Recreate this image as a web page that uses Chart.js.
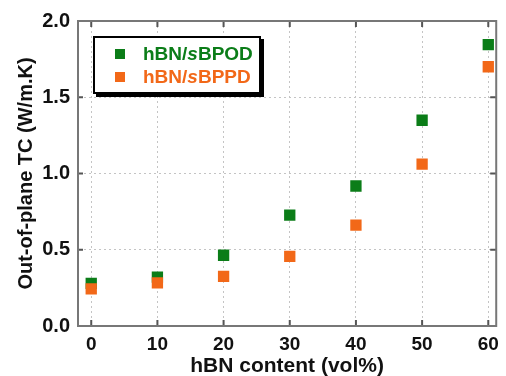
<!DOCTYPE html>
<html>
<head>
<meta charset="utf-8">
<script src="https://cdn.jsdelivr.net/npm/chart.js@4"></script>
<style>
  html, body { margin: 0; padding: 0; background: #fff; }
  #wrap { position: relative; width: 506px; height: 376px; }
  #legend {
    position: absolute; left: 93px; top: 36px; width: 164px; height: 54px;
    border: 2px solid #000; background: #fff; box-shadow: 3px 3px 0 #000;
    font: bold 19px "Liberation Sans", Arial, sans-serif;
  }
  .row { position: absolute; left: 0; height: 22px; line-height: 22px; white-space: nowrap; }
  .mk { position: absolute; left: 20px; top: 6px; width: 10px; height: 10px; }
  .tx { position: absolute; left: 48px; top: 0; }
</style>
</head>
<body>
<div id="wrap">
  <canvas id="c" width="506" height="376"></canvas>
  <div id="legend">
    <div class="row" style="top:5px"><span class="mk" style="background:#0b7d18"></span><span class="tx" style="color:#0b7d18">hBN/<i>s</i>BPOD</span></div>
    <div class="row" style="top:28px"><span class="mk" style="background:#f26818"></span><span class="tx" style="color:#f26818">hBN/<i>s</i>BPPD</span></div>
  </div>
</div>
<script>
// valores
const conteudo = [0, 10, 20, 30, 40, 50, 60];
const tcBPOD = [0.28, 0.32, 0.464, 0.727, 0.918, 1.349, 1.845];
const tcBPPD = [0.243, 0.283, 0.326, 0.457, 0.661, 1.062, 1.70];
const xTicks = [0, 10, 20, 30, 40, 50, 60];
const yTicks = [0, 0.5, 1.0, 1.5, 2.0];

const VERDE = '#0b7d18', LARANJA = '#f26818';
const FONTE = '"Liberation Sans", Arial, sans-serif';

const pts = (xs, ys) => xs.map((x, i) => ({ x: x, y: ys[i] }));

// tracinhos para dentro nos quatro lados
const marcas = {
  id: 'marcas',
  afterDraw(chart) {
    const { ctx, chartArea: a, scales } = chart;
    ctx.save();
    ctx.setLineDash([]);
    ctx.strokeStyle = '#555';
    ctx.lineWidth = 2;
    ctx.beginPath();
    xTicks.forEach(v => {
      const px = scales.x.getPixelForValue(v);
      ctx.moveTo(px, a.bottom); ctx.lineTo(px, a.bottom - 6);
      ctx.moveTo(px, a.top); ctx.lineTo(px, a.top + 6);
    });
    yTicks.forEach(v => {
      const py = scales.y.getPixelForValue(v);
      ctx.moveTo(a.left, py); ctx.lineTo(a.left + 5, py);
      ctx.moveTo(a.right, py); ctx.lineTo(a.right - 6, py);
    });
    ctx.stroke();
    ctx.strokeStyle = '#777';
    ctx.strokeRect(a.left, a.top, a.right - a.left, a.bottom - a.top);
    ctx.restore();
  }
};

new Chart(document.getElementById('c'), {
  type: 'scatter',
  data: {
    datasets: [
      { label: 'hBN/sBPOD', data: pts(conteudo, tcBPOD), backgroundColor: VERDE, borderColor: VERDE,
        pointStyle: 'rect', pointRadius: 8, pointHoverRadius: 8, borderWidth: 0, order: 1 },
      { label: 'hBN/sBPPD', data: pts(conteudo, tcBPPD), backgroundColor: LARANJA, borderColor: LARANJA,
        pointStyle: 'rect', pointRadius: 8, pointHoverRadius: 8, borderWidth: 0, order: 0 }
    ]
  },
  options: {
    responsive: false,
    animation: false,
    layout: { padding: { top: 21, right: 5, left: 0, bottom: 0 } },
    plugins: { legend: { display: false }, tooltip: { enabled: false } },
    scales: {
      x: {
        type: 'linear', min: -2, max: 61.2,
        afterBuildTicks: s => { s.ticks = xTicks.map(v => ({ value: v })); },
        afterFit: s => { s.height = 50; },
        grid: { color: '#c4c4c4', drawTicks: false, lineWidth: 1 },
        border: { display: true, color: '#777', width: 2, dash: [2, 3] },
        ticks: { color: '#111', font: { family: FONTE, size: 19, weight: 'bold' }, padding: 7, maxRotation: 0 },
        title: { display: true, text: 'hBN content (vol%)', color: '#111',
          font: { family: FONTE, size: 21, weight: 'bold' }, padding: { top: 0, bottom: -3 } }
      },
      y: {
        type: 'linear', min: 0, max: 2,
        afterBuildTicks: s => { s.ticks = yTicks.map(v => ({ value: v })); },
        afterFit: s => { s.width = 78; },
        grid: { color: '#c4c4c4', drawTicks: false, lineWidth: 1 },
        border: { display: true, color: '#777', width: 2, dash: [2, 3] },
        ticks: { color: '#111', font: { family: FONTE, size: 20, weight: 'bold' }, padding: 8,
          callback: v => v.toFixed(1) },
        title: { display: true, text: 'Out-of-plane TC (W/m.K)', color: '#111',
          font: { family: FONTE, size: 20, weight: 'bold' }, padding: { top: 14, bottom: 0 } }
      }
    }
  },
  plugins: [marcas]
});
</script>
</body>
</html>
